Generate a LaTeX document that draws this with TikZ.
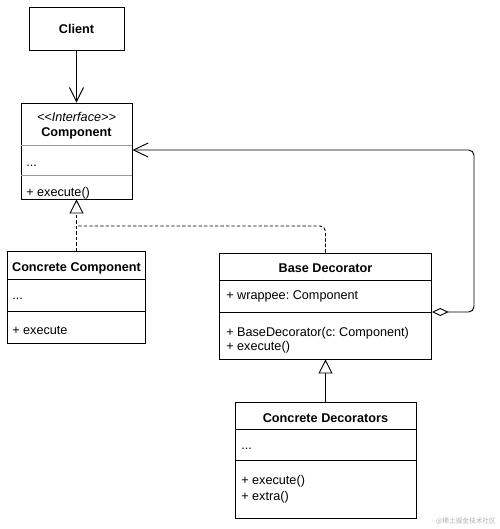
\documentclass[tikz,border=0pt]{standalone}
\usepackage{fontspec}
\setmainfont{Liberation Sans}
\newfontfamily\cjk{Noto Sans CJK SC}
\usetikzlibrary{fit,arrows.meta}
\frenchspacing
\tikzset{
  box/.style={draw, line width=0.7pt, inner sep=0pt},
  sepline/.style={line width=0.7pt},
  lightsep/.style={line width=0.6pt, draw=black!40},
  txt/.style={anchor=west, inner sep=0pt, yshift=-1.4pt, font=\fontsize{9.5}{11}\selectfont, text height=6.9pt, text depth=1.9pt},
  ttl/.style={anchor=center, inner sep=0pt, yshift=-1.4pt, font=\fontsize{9.5}{11}\selectfont\bfseries, text height=6.9pt, text depth=1.9pt},
  assoc/.style={line width=0.7pt, -{Straight Barb[length=10.5pt,width=10.5pt,line width=0.7pt]}},
  gen/.style={line width=0.7pt, -{Triangle[open,length=10.5pt,width=10.5pt,fill=white,line width=0.7pt]}},
  realize/.style={line width=0.7pt, dash pattern=on 2.5pt off 1.6pt},
  agg/.style={line width=0.7pt, {Diamond[open,length=12.5pt,width=6pt,fill=white,line width=0.7pt]}-{Straight Barb[length=11pt,width=10.5pt,line width=0.7pt]}},
}
\begin{document}
\begin{tikzpicture}[x=0.75pt,y=-0.75pt]
\useasboundingbox[fill=white] (0,0) rectangle (500,529);

% boxes
\node[box, fit={(29,7)(124,50)}] (client) {};
\node[box, fit={(21,103)(132,199)}] (comp) {};
\node[box, fit={(7.5,251.5)(145.5,343)}] (cc) {};
\node[box, fit={(219.5,253)(431.5,359)}] (bd) {};
\node[box, fit={(235,402)(416,518)}] (cd) {};

% separators
\draw[lightsep] (21,145) -- (132,145);
\draw[lightsep] (21,175) -- (132,175);
\draw[sepline] (7.5,279.5) -- (145.5,279.5);
\draw[sepline] (7.5,311) -- (145.5,311);
\draw[sepline] (219.5,280) -- (431.5,280);
\draw[sepline] (219.5,312) -- (431.5,312);
\draw[sepline] (235,429) -- (416,429);
\draw[sepline] (235,460) -- (416,460);

% texts
\node[ttl] (tclient) at (76.5,28.5) {Client};
\node[ttl, font=\fontsize{9.5}{11}\selectfont\itshape] (tster) at (76.5,116) {{<}{<}Interface{>}{>}};
\node[ttl] (tcomp) at (76.5,131) {Component};
\node[txt] (compa) at (26,161) {...};
\node[txt] (compm) at (26,191) {+ execute()};

\node[ttl] (tcc) at (76.5,266) {Concrete Component};
\node[txt] (cca) at (12,294) {...};
\node[txt] (ccm) at (12,329.5) {+ execute};

\node[ttl] (tbd) at (325.5,267.5) {Base Decorator};
\node[txt] (bda) at (226,294.5) {+ wrappee: Component};
\node[txt] (bdm1) at (226,331) {+ BaseDecorator(c: Component)};
\node[txt] (bdm2) at (226,345.5) {+ execute()};

\node[ttl] (tcd) at (325.5,417) {Concrete Decorators};
\node[txt] (cda) at (241,444) {...};
\node[txt] (cdm1) at (241,479.5) {+ execute()};
\node[txt] (cdm2) at (241,495) {+ extra()};

\node[inner sep=0pt, text=black!30, font=\cjk\fontsize{5}{6}\selectfont] (wm) at (466,521) {@稀土掘金技术社区};

% connectors
\coordinate (j) at (76.5,226);
\coordinate (r1) at (474,312);
\coordinate (r2) at (474,150);

\draw[assoc] (client.south) -- (comp.north);
\draw[realize, gen] (cc.north) -- (comp.south);
\draw[realize, rounded corners=4] (bd.north) |- (j);
\draw[agg, rounded corners=4] (bd.east |- r1) -- (r1) -- (r2) -- (comp.east |- r2);
\draw[gen] (cd.north) -- (bd.south);
\end{tikzpicture}
\end{document}
